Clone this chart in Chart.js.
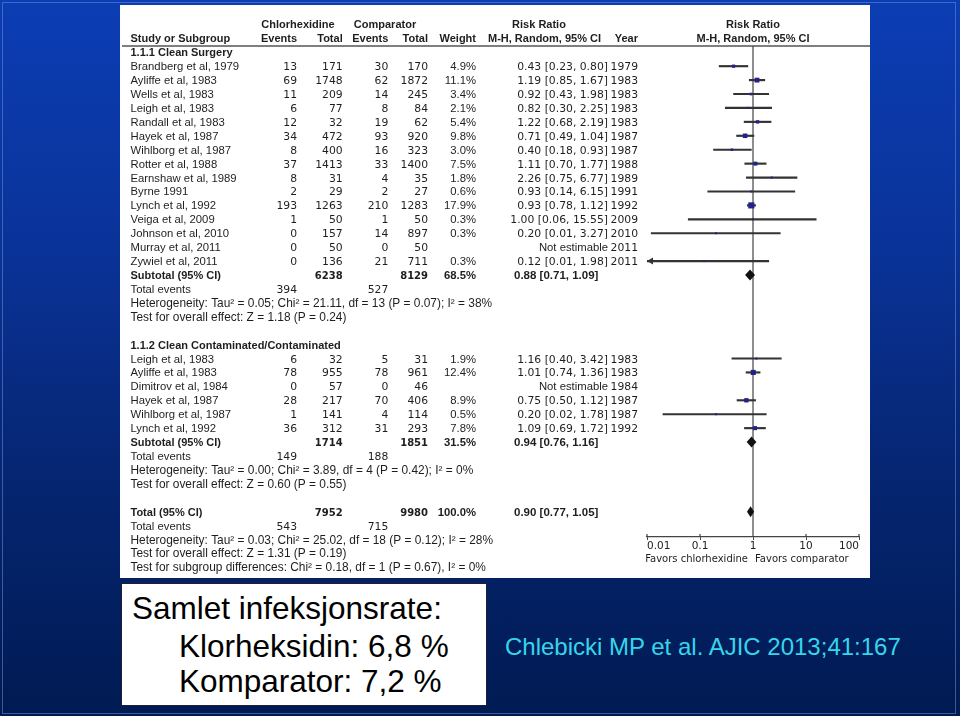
<!DOCTYPE html>
<html lang="no">
<head>
<meta charset="UTF-8">
<title>Klorheksidin – samlet infeksjonsrate</title>
<style>
  html, body { margin: 0; padding: 0; }
  body {
    width: 960px;
    height: 716px;
    overflow: hidden;
    position: relative;
    background: linear-gradient(to bottom, #0b3db4 0%, #0a3398 35%, #062673 65%, #001a52 100%);
    font-family: "Liberation Sans", Arial, sans-serif;
  }
  .frame {
    position: absolute;
    left: 2px; top: 2px;
    width: 952px; height: 710px;
    border: 1px solid rgba(110, 140, 210, 0.55);
  }
  .panel {
    position: absolute;
    left: 120px; top: 5px;
    width: 750px; height: 573px;
    background: #ffffff;
  }
  .panel canvas { display: block; }
  .summary {
    position: absolute;
    left: 121px; top: 583px;
    width: 364px; height: 121px;
    background: #ffffff;
    border: 1.5px solid #1b1f3a;
  }
  .line {
    position: absolute;
    font-size: 31.5px;
    line-height: 35px;
    color: #000;
    white-space: nowrap;
  }
  .cite {
    position: absolute;
    left: 505px; top: 633px;
    font-size: 24px;
    line-height: 28px;
    color: #36d6ea;
    white-space: nowrap;
  }
</style>
</head>
<body>
<div class="frame"></div>
<div class="panel"><canvas id="forest" width="750" height="573"></canvas></div>
<div class="summary"></div>
<div class="line" style="left:132px; top:591px;">Samlet infeksjonsrate:</div>
<div class="line" style="left:179px; top:629px;">Klorheksidin: 6,8 %</div>
<div class="line" style="left:179px; top:664px;">Komparator: 7,2 %</div>
<div class="cite">Chlebicki MP et al. AJIC 2013;41:167</div>
<script src="https://cdn.jsdelivr.net/npm/chart.js"></script>
<script>
  // ---- data ----
  var axisTicks = [0.01, 0.1, 1, 10, 100];
  var axisLabels = ['0.01', '0.1', '1', '10', '100'];

  var groupNames = ['1.1.1 Clean Surgery', '1.1.2 Clean Contaminated/Contaminated'];

  var studyNames = [
    'Brandberg et al, 1979', 'Ayliffe et al, 1983', 'Wells et al, 1983', 'Leigh et al, 1983',
    'Randall et al, 1983', 'Hayek et al, 1987', 'Wihlborg et al, 1987', 'Rotter et al, 1988',
    'Earnshaw et al, 1989', 'Byrne 1991', 'Lynch et al, 1992', 'Veiga et al, 2009',
    'Johnson et al, 2010', 'Murray et al, 2011', 'Zywiel et al, 2011',
    'Leigh et al, 1983', 'Ayliffe et al, 1983', 'Dimitrov et al, 1984', 'Hayek et al, 1987',
    'Wihlborg et al, 1987', 'Lynch et al, 1992'
  ];
  var studyGroup = [0,0,0,0,0,0,0,0,0,0,0,0,0,0,0, 1,1,1,1,1,1];
  var chxEvents = [13, 69, 11, 6, 12, 34, 8, 37, 8, 2, 193, 1, 0, 0, 0, 6, 78, 0, 28, 1, 36];
  var chxTotal = [171, 1748, 209, 77, 32, 472, 400, 1413, 31, 29, 1263, 50, 157, 50, 136, 32, 955, 57, 217, 141, 312];
  var cmpEvents = [30, 62, 14, 8, 19, 93, 16, 33, 4, 2, 210, 1, 14, 0, 21, 5, 78, 0, 70, 4, 31];
  var cmpTotal = [170, 1872, 245, 84, 62, 920, 323, 1400, 35, 27, 1283, 50, 897, 50, 711, 31, 961, 46, 406, 114, 293];
  var weights = [4.9, 11.1, 3.4, 2.1, 5.4, 9.8, 3.0, 7.5, 1.8, 0.6, 17.9, 0.3, 0.3, null, 0.3, 1.9, 12.4, null, 8.9, 0.5, 7.8];
  var riskRatio = [0.43, 1.19, 0.92, 0.82, 1.22, 0.71, 0.40, 1.11, 2.26, 0.93, 0.93, 1.00, 0.20, null, 0.12, 1.16, 1.01, null, 0.75, 0.20, 1.09];
  var ciLow = [0.23, 0.85, 0.43, 0.30, 0.68, 0.49, 0.18, 0.70, 0.75, 0.14, 0.78, 0.06, 0.012, null, 0.0073, 0.40, 0.74, null, 0.50, 0.02, 0.69];
  var ciHigh = [0.80, 1.67, 1.98, 2.25, 2.19, 1.04, 0.93, 1.77, 6.77, 6.15, 1.12, 15.55, 3.27, null, 1.98, 3.42, 1.36, null, 1.12, 1.78, 1.72];
  var years = [1979, 1983, 1983, 1983, 1983, 1987, 1987, 1988, 1989, 1991, 1992, 2009, 2010, 2011, 2011, 1983, 1983, 1984, 1987, 1987, 1992];

  var subChxTotal = [6238, 1714];
  var subCmpTotal = [8129, 1851];
  var subWeight = [68.5, 31.5];
  var subRR = [0.88, 0.94];
  var subLow = [0.71, 0.76];
  var subHigh = [1.09, 1.16];
  var subChxEvents = [394, 149];
  var subCmpEvents = [527, 188];
  var subHetText = [
    'Heterogeneity: Tau\u00b2 = 0.05; Chi\u00b2 = 21.11, df = 13 (P = 0.07); I\u00b2 = 38%',
    'Heterogeneity: Tau\u00b2 = 0.00; Chi\u00b2 = 3.89, df = 4 (P = 0.42); I\u00b2 = 0%'
  ];
  var subTestText = [
    'Test for overall effect: Z = 1.18 (P = 0.24)',
    'Test for overall effect: Z = 0.60 (P = 0.55)'
  ];

  var totalChxTotal = 7952, totalCmpTotal = 9980, totalWeight = 100.0;
  var totalRR = 0.90, totalLow = 0.77, totalHigh = 1.05;
  var totalChxEvents = 543, totalCmpEvents = 715;
  var totalNotes = [
    'Heterogeneity: Tau\u00b2 = 0.03; Chi\u00b2 = 25.02, df = 18 (P = 0.12); I\u00b2 = 28%',
    'Test for overall effect: Z = 1.31 (P = 0.19)',
    'Test for subgroup differences: Chi\u00b2 = 0.18, df = 1 (P = 0.67), I\u00b2 = 0%'
  ];

  // ---- fonts and columns (canvas px) ----
  var F_TEXT = '11.3px "Liberation Sans"';
  var F_NOTE = '11.9px "Liberation Sans"';
  var F_BOLD = 'bold 11px "Liberation Sans"';
  var F_NUM = '10.8px "DejaVu Sans"';
  var F_NUMB = 'bold 10px "DejaVu Sans"';
  var F_PCT = '11.3px "Liberation Sans"';
  var F_PCTB = 'bold 11.3px "Liberation Sans"';
  var F_RRB = 'bold 11.5px "Liberation Sans"';
  var COL = { name: 10.5, chxEv: 177, chxTot: 222.7, cmpEv: 268.3, cmpTot: 308, weight: 356,
              rr: 488, rrBold: 394, year: 518, chxHead: 178, cmpHead: 265, rrHead: 419, rrSub: 424.5 };

  function fmt2(v) { return v.toFixed(2); }
  function rrText(e, l, h) { return fmt2(e) + ' [' + fmt2(l) + ', ' + fmt2(h) + ']'; }
  function boxSide(w) { return Math.max(2, 1.45 * Math.sqrt(w)); }

  // ---- row layout: one row per text line ----
  var lines = [];   // {row, cells: [[text, x, align, font]]}
  var studyRow = [];
  var diamonds = [];
  var row = 0;
  groupNames.forEach(function (g, gi) {
    lines.push({ row: row++, cells: [[g, COL.name, 'left', F_BOLD]] });
    studyNames.forEach(function (name, i) {
      if (studyGroup[i] !== gi) return;
      studyRow[i] = row;
      var rrStr = riskRatio[i] == null ? 'Not estimable' : rrText(riskRatio[i], ciLow[i], ciHigh[i]);
      lines.push({ row: row++, cells: [
        [name, COL.name, 'left', F_TEXT],
        [String(chxEvents[i]), COL.chxEv, 'right', F_NUM],
        [String(chxTotal[i]), COL.chxTot, 'right', F_NUM],
        [String(cmpEvents[i]), COL.cmpEv, 'right', F_NUM],
        [String(cmpTotal[i]), COL.cmpTot, 'right', F_NUM],
        [weights[i] == null ? '' : weights[i].toFixed(1) + '%', COL.weight, 'right', F_PCT],
        [rrStr, COL.rr, 'right', riskRatio[i] == null ? F_TEXT : F_NUM],
        [String(years[i]), COL.year, 'right', F_NUM]
      ] });
    });
    diamonds.push({ row: row, est: subRR[gi], lo: subLow[gi], hi: subHigh[gi] });
    lines.push({ row: row++, cells: [
      ['Subtotal (95% CI)', COL.name, 'left', F_BOLD],
      [String(subChxTotal[gi]), COL.chxTot, 'right', F_NUMB],
      [String(subCmpTotal[gi]), COL.cmpTot, 'right', F_NUMB],
      [subWeight[gi].toFixed(1) + '%', COL.weight, 'right', F_PCTB],
      [rrText(subRR[gi], subLow[gi], subHigh[gi]), COL.rrBold, 'left', F_RRB]
    ] });
    lines.push({ row: row++, cells: [
      ['Total events', COL.name, 'left', F_TEXT],
      [String(subChxEvents[gi]), COL.chxEv, 'right', F_NUM],
      [String(subCmpEvents[gi]), COL.cmpEv, 'right', F_NUM]
    ] });
    lines.push({ row: row++, cells: [[subHetText[gi], COL.name, 'left', F_NOTE]] });
    lines.push({ row: row++, cells: [[subTestText[gi], COL.name, 'left', F_NOTE]] });
    row++;
  });
  diamonds.push({ row: row, est: totalRR, lo: totalLow, hi: totalHigh });
  lines.push({ row: row++, cells: [
    ['Total (95% CI)', COL.name, 'left', F_BOLD],
    [String(totalChxTotal), COL.chxTot, 'right', F_NUMB],
    [String(totalCmpTotal), COL.cmpTot, 'right', F_NUMB],
    [totalWeight.toFixed(1) + '%', COL.weight, 'right', F_PCTB],
    [rrText(totalRR, totalLow, totalHigh), COL.rrBold, 'left', F_RRB]
  ] });
  lines.push({ row: row++, cells: [
    ['Total events', COL.name, 'left', F_TEXT],
    [String(totalChxEvents), COL.chxEv, 'right', F_NUM],
    [String(totalCmpEvents), COL.cmpEv, 'right', F_NUM]
  ] });
  totalNotes.forEach(function (t) { lines.push({ row: row++, cells: [[t, COL.name, 'left', F_NOTE]] }); });

  // ---- datasets ----
  var ciData = [], pointData = [], pointWeight = [], arrowRows = [];
  studyNames.forEach(function (n, i) {
    if (riskRatio[i] == null) return;
    ciData.push({ x: [ciLow[i], ciHigh[i]], y: studyRow[i] });
    pointData.push({ x: riskRatio[i], y: studyRow[i] });
    pointWeight.push(weights[i]);
    if (ciLow[i] < axisTicks[0]) arrowRows.push(studyRow[i]);
  });

  var forestPlugin = {
    id: 'forest',
    beforeDatasetsDraw: function (chart) {
      var ctx = chart.ctx, a = chart.chartArea, x = chart.scales.x;
      ctx.save();
      ctx.strokeStyle = '#555';
      ctx.lineWidth = 1.6;
      ctx.beginPath();
      ctx.moveTo(2, a.top); ctx.lineTo(chart.width, a.top);
      ctx.stroke();
      ctx.strokeStyle = '#444';
      ctx.lineWidth = 1.2;
      var x1 = x.getPixelForValue(1);
      ctx.beginPath();
      ctx.moveTo(x1, a.top); ctx.lineTo(x1, a.bottom);
      axisTicks.forEach(function (t) {
        var px = x.getPixelForValue(t);
        ctx.moveTo(px, a.bottom - 3); ctx.lineTo(px, a.bottom);
      });
      ctx.stroke();
      ctx.restore();
    },
    afterDatasetsDraw: function (chart) {
      var ctx = chart.ctx, a = chart.chartArea, x = chart.scales.x, y = chart.scales.y;
      ctx.save();
      ctx.fillStyle = '#111';
      diamonds.forEach(function (d) {
        var py = y.getPixelForValue(d.row);
        ctx.beginPath();
        ctx.moveTo(x.getPixelForValue(d.lo), py);
        ctx.lineTo(x.getPixelForValue(d.est), py - 5.5);
        ctx.lineTo(x.getPixelForValue(d.hi), py);
        ctx.lineTo(x.getPixelForValue(d.est), py + 5.5);
        ctx.closePath();
        ctx.fill();
      });
      ctx.fillStyle = '#333';
      arrowRows.forEach(function (r) {
        var py = y.getPixelForValue(r);
        ctx.beginPath();
        ctx.moveTo(a.left, py);
        ctx.lineTo(a.left + 6, py - 3.5);
        ctx.lineTo(a.left + 6, py + 3.5);
        ctx.closePath();
        ctx.fill();
      });
      ctx.restore();
    },
    afterDraw: function (chart) {
      var ctx = chart.ctx, x = chart.scales.x, y = chart.scales.y;
      var x1 = x.getPixelForValue(1);
      ctx.save();
      ctx.fillStyle = '#1e1e1e';
      ctx.textBaseline = 'alphabetic';
      // all cells share one baseline per row, whatever the font
      function put(t, px, py, align, font) {
        ctx.font = font; ctx.textAlign = align; ctx.fillText(t, px, py + 4);
      }
      var h1 = y.getPixelForValue(-2), h2 = y.getPixelForValue(-1);
      put('Chlorhexidine', COL.chxHead, h1, 'center', F_BOLD);
      put('Comparator', COL.cmpHead, h1, 'center', F_BOLD);
      put('Risk Ratio', COL.rrHead, h1, 'center', F_BOLD);
      put('Risk Ratio', x1, h1, 'center', F_BOLD);
      put('Study or Subgroup', COL.name, h2, 'left', F_BOLD);
      put('Events', COL.chxEv, h2, 'right', F_BOLD);
      put('Total', COL.chxTot, h2, 'right', F_BOLD);
      put('Events', COL.cmpEv, h2, 'right', F_BOLD);
      put('Total', COL.cmpTot, h2, 'right', F_BOLD);
      put('Weight', COL.weight, h2, 'right', F_BOLD);
      put('M-H, Random, 95% CI', COL.rrSub, h2, 'center', F_BOLD);
      put('Year', COL.year, h2, 'right', F_BOLD);
      put('M-H, Random, 95% CI', x1, h2, 'center', F_BOLD);
      lines.forEach(function (l) {
        var py = y.getPixelForValue(l.row);
        l.cells.forEach(function (c) { put(c[0], c[1], py, c[2], c[3]); });
      });
      var fy = chart.chartArea.bottom + 20.5;
      put('Favors chlorhexidine', x1 - 5, fy, 'right', '10px "DejaVu Sans"');
      put('Favors comparator', x1 + 2, fy, 'left', '10px "DejaVu Sans"');
      ctx.restore();
    }
  };

  var chart = new Chart(document.getElementById('forest'), {
    type: 'bar',
    data: {
      datasets: [
        {
          type: 'scatter',
          data: pointData,
          pointStyle: 'rect',
          pointRadius: function (c) { return boxSide(pointWeight[c.dataIndex]) / Math.SQRT2; },
          backgroundColor: '#22228a',
          borderColor: '#22228a',
          borderWidth: 0
        },
        {
          type: 'bar',
          indexAxis: 'y',
          data: ciData,
          barThickness: 1.5,
          backgroundColor: '#333333',
          borderWidth: 0
        }
      ]
    },
    options: {
      responsive: false,
      animation: false,
      devicePixelRatio: 1,
      layout: { padding: { left: 527, right: 11, top: 41, bottom: 0 } },
      plugins: { legend: { display: false }, tooltip: { enabled: false } },
      scales: {
        x: {
          type: 'logarithmic',
          min: 0.01,
          max: 100,
          offset: false,
          afterBuildTicks: function (s) { s.ticks = axisTicks.map(function (v) { return { value: v }; }); },
          afterFit: function (s) { s.height = 41; },
          grid: { display: true, drawOnChartArea: false, drawTicks: true, tickLength: 3, color: '#444', offset: false },
          border: { display: true, color: '#444', width: 1.2 },
          ticks: {
            align: 'inner',
            padding: 0,
            autoSkip: false,
            maxRotation: 0,
            color: '#222',
            font: { family: 'DejaVu Sans', size: 10.5 },
            callback: function (v, i) { return axisLabels[i]; }
          }
        },
        y: {
          type: 'linear',
          display: false,
          reverse: true,
          offset: false,
          grace: 0,
          min: -0.45,
          max: 34.82
        }
      }
    },
    plugins: [forestPlugin]
  });
</script>
</body>
</html>
